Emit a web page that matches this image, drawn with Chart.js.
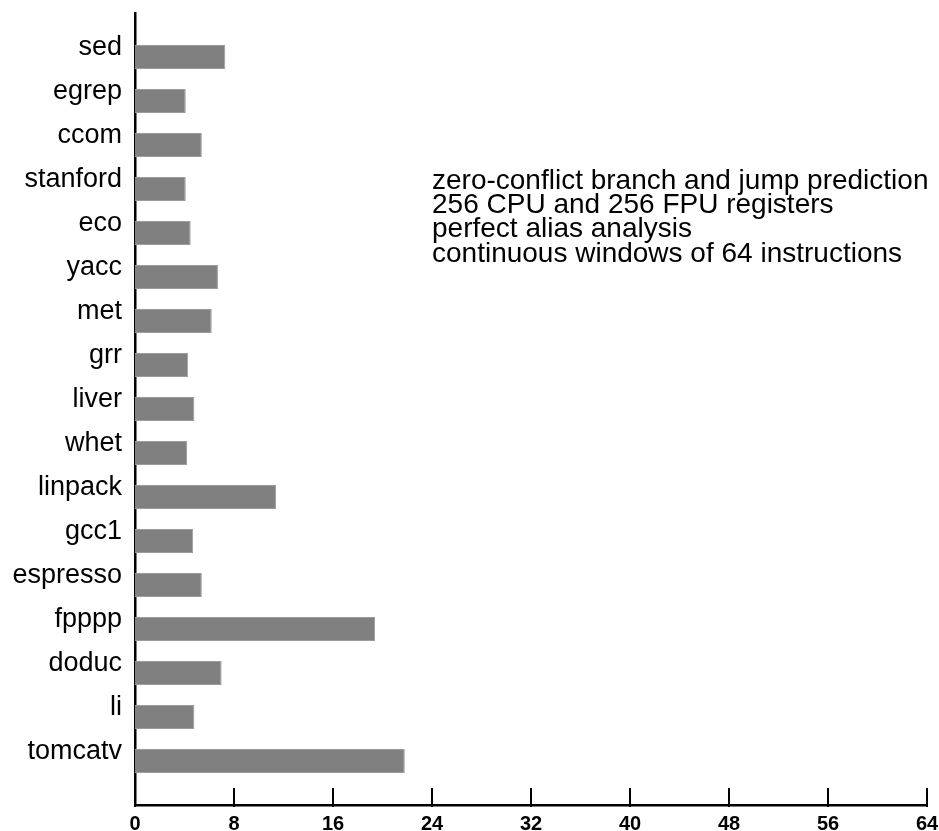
<!DOCTYPE html>
<html>
<head>
<meta charset="utf-8">
<script src="https://cdn.jsdelivr.net/npm/chart.js@4.4.0/dist/chart.umd.min.js"></script>
<style>
  html, body { margin: 0; padding: 0; background: #fff; }
  #chart { display: block; }
</style>
</head>
<body>
<canvas id="chart" width="939" height="831"></canvas>
<script>
let benchmarks = [
  "sed", "egrep", "ccom", "stanford", "eco", "yacc", "met", "grr", "liver",
  "whet", "linpack", "gcc1", "espresso", "fpppp", "doduc", "li", "tomcatv",
];
let parallelism = [
  7.3, 4.1, 5.4, 4.1, 4.5, 6.7, 6.2, 4.3, 4.8,
  4.2, 11.4, 4.7, 5.4, 19.4, 7.0, 4.8, 21.8,
];
let xTicks = [0, 8, 16, 24, 32, 40, 48, 56, 64];
let notes = [
  "zero-conflict branch and jump prediction",
  "256 CPU and 256 FPU registers",
  "perfect alias analysis",
  "continuous windows of 64 instructions",
];

let font_family = '"Liberation Sans", Arial, Helvetica, sans-serif';

// blank slot above and below so the axis runs past the first and last bar
let labels = [""].concat(benchmarks, [""]);
let values = [null].concat(parallelism, [null]);

let extras = {
  id: "extras",
  afterDraw(chart) {
    let ctx = chart.ctx;
    let x = chart.scales.x;
    let y = chart.scales.y;
    let bottom = chart.chartArea.bottom;

    // tick marks point up into the plot
    ctx.save();
    ctx.strokeStyle = "#000";
    ctx.lineWidth = 2;
    for (let i = 0; i < xTicks.length; i++) {
      let px = Math.round(x.getPixelForValue(xTicks[i]));
      ctx.beginPath();
      ctx.moveTo(px, bottom - 17);
      ctx.lineTo(px, bottom + 2);
      ctx.stroke();
    }

    // note text block
    ctx.fillStyle = "#000";
    ctx.font = "28px " + font_family;
    ctx.textAlign = "left";
    ctx.textBaseline = "alphabetic";
    let left = x.getPixelForValue(24);
    let top = y.getPixelForValue(4);
    for (let i = 0; i < notes.length; i++) {
      ctx.fillText(notes[i], left, top + i * 24.2);
    }
    ctx.restore();
  },
};

let config = {
  type: "bar",
  data: {
    labels: labels,
    datasets: [
      {
        data: values,
        backgroundColor: "#808080",
        borderColor: "#9c9c9c",
        borderWidth: 1,
        barPercentage: 1,
        categoryPercentage: 0.545,
      },
    ],
  },
  options: {
    indexAxis: "y",
    responsive: false,
    animation: false,
    layout: { padding: { top: 13, right: 12, bottom: 0, left: 0 } },
    plugins: {
      legend: { display: false },
      tooltip: { enabled: false },
    },
    scales: {
      x: {
        type: "linear",
        min: 0,
        max: 64,
        afterFit: (scale) => {
          scale.height = 26;
          scale.paddingLeft = 0;
          scale.paddingRight = 0;
        },
        afterBuildTicks: (scale) => {
          scale.ticks = xTicks.map((v) => ({ value: v }));
        },
        grid: { display: false, drawTicks: false },
        border: { display: true, color: "#000", width: 2.5 },
        ticks: {
          color: "#000",
          padding: 7,
          maxRotation: 0,
          font: { family: font_family, size: 20, weight: "bold" },
        },
      },
      y: {
        type: "category",
        offset: false,
        afterFit: (scale) => {
          scale.width = 135;
          scale.paddingTop = 0;
          scale.paddingBottom = 0;
        },
        grid: { display: false, drawTicks: false },
        border: { display: true, color: "#000", width: 2.5 },
        ticks: {
          color: "#000",
          padding: 13,
          autoSkip: false,
          labelOffset: -9,
          font: { family: font_family, size: 27 },
        },
      },
    },
  },
  plugins: [extras],
};

let chart = new Chart(document.getElementById("chart"), config);
</script>
</body>
</html>
